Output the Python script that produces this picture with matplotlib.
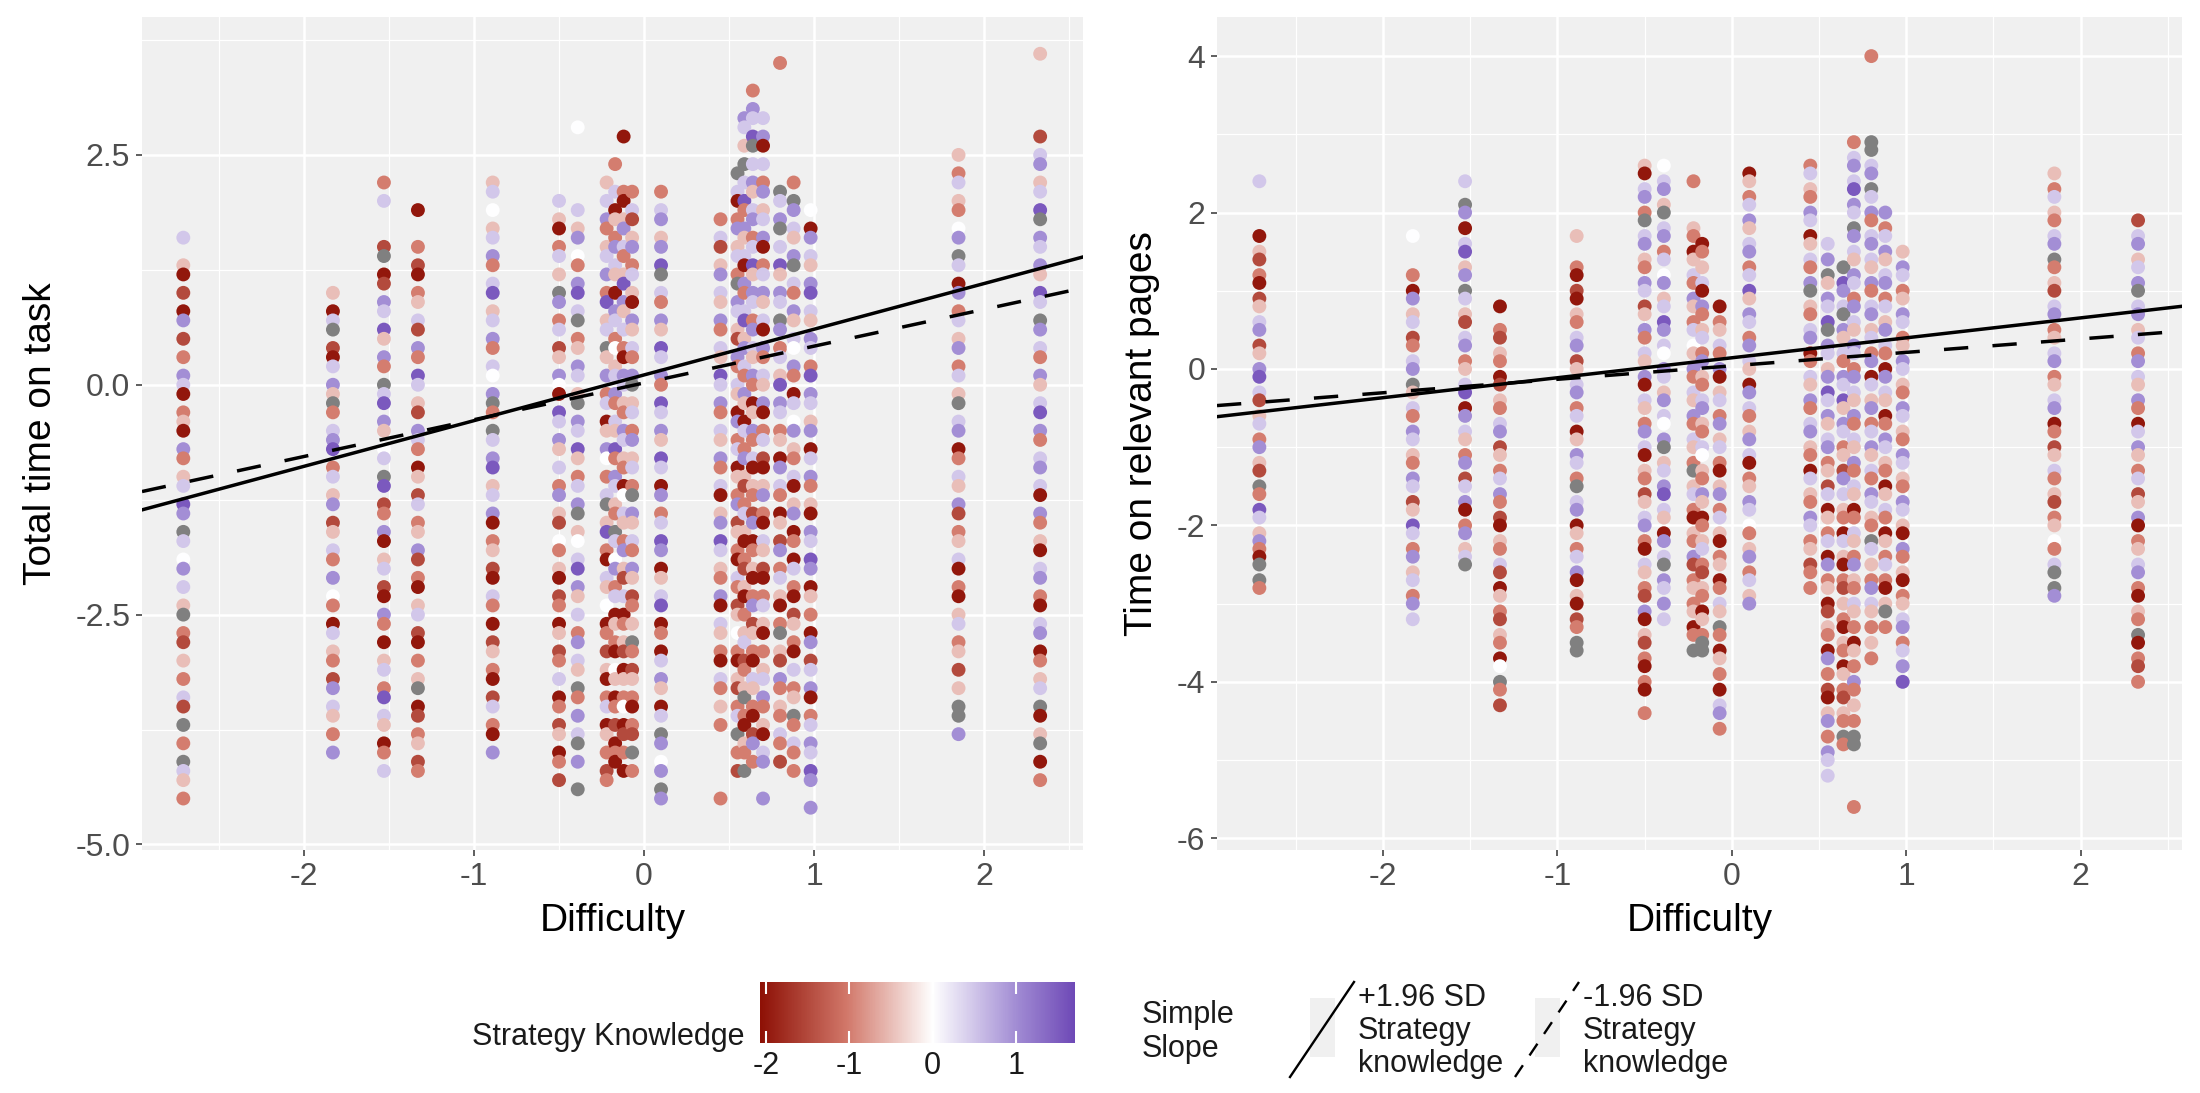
import numpy as np
import matplotlib as mpl
mpl.use('Agg')
import matplotlib.pyplot as plt
from matplotlib.colors import LinearSegmentedColormap, Normalize, to_rgba
from matplotlib.ticker import FixedLocator

plt.rc('font', family=['Liberation Sans', 'DejaVu Sans'])
plt.rcParams['axes.unicode_minus'] = False

# item difficulty of each column of points
difficulty = [-2.71, -1.83, -1.53, -1.33, -0.89, -0.50, -0.39, -0.22, -0.17, -0.12, -0.07,
              0.10, 0.45, 0.55, 0.59, 0.64, 0.70, 0.80, 0.88, 0.98, 1.85, 2.33]

# points per column: value in tenths + strategy knowledge code
time_task = [
    "16l 13p 12R 10r 8R 7m 5r 3o 1m 0l -1R -3o -4p -5R -7m -8o -10p -11l -13v -14m -16g -17l -19w -20m -22l -24p -25g -27o -28r -30p -32o -34l -35r -37g -39o -41g -42l -43p -45o",
    "10p 8R 7l 6g 4r 3R 2l 0m -1p -2g -3o -5l -6m -7v -9o -10l -12p -13m -15r -16p -18l -19o -21m -23w -24o -26R -27l -29p -30o -32r -33m -35l -36p -38o -40m",
    "22o 20l 15r 14g 12R 11r 9m 8l 6v 5p 3m 2o 0g -1l -2v -4m -5p -7w -8l -10g -11v -13r -14o -16m -17R -19p -20l -22r -23R -25m -26o -28R -30p -31l -33o -34v -36l -37p -39R -40o -42l",
    "19R 15o 13r 12R 10o 9p 7l 6r 4m 3o 1v 0l -2p -3r -5m -6l -7o -9R -10p -12r -13l -15o -16p -18m -19r -21o -22R -24p -25l -27r -28R -30o -32p -33g -35R -36r -38o -39p -41r -42o",
    "22p 21l 19w 17p 16l 14m 13o 11l 10v 8p 7l 5m 4o 2l 1w -1m -2g -3o -5g -6l -8m -9v -11p -12l -14m -15R -17o -18p -20r -21R -23l -24o -26R -28r -29p -31o -32R -34r -35l -37o -38R -40m",
    "20l 18p 17R 15o 14l 12p 10g 9m 7o 6l 4r 3p 1m 0w -1R -3v -4l -6m -7p -9l -11o -12m -14p -15r -17w -18o -20p -21R -23r -24o -26R -27p -29r -30o -32l -34R -35o -37r -38p -40R -41o -43r",
    "28w 19l 17p 16m 14w 13o 11m 10v 8l 7g 5o 4p 2m 1l -1p -2g -4m -5l -7v -8p -10o -11l -13m -14g -16p -17w -19l -20v -22m -23p -25l -27o -28m -30l -31p -33g -34o -36m -38l -39g -41m -44g",
    "22p 20l 18m 17o 15p 14l 12m 10o 9v 7p 6l 4g 3p 1m -1o -2l -4R -5p -7m -8w -10o -12l -13g -15p -16v -18o -19R -21l -22p -24w -26R -27o -29r -31p -32R -34o -35l -37R -38p -40o -42r -43o",
    "24o 21l 19R 18p 16o 15m 13l 12p 10R 8m 7l 5o 4w 2p 1l -1m -2o -4l -5p -7v -8o -10m -11l -13p -14o -16g -17l -19w -20m -22o -23l -25R -26p -28o -29R -31w -32p -34R -35o -37r -39R -40o -41R",
    "27R 21o 20R 18p 17m 15l 14o 12p 11v 9m 8p 6l 4o 3R 1m 0l -2p -3o -5m -6l -8p -9o -11R -12w -14l -15p -17o -18m -20p -21r -23l -25R -26o -28p -29r -31R -32p -34o -35w -37R -38r -40o -42R",
    "21o 19l 18r 16p 15m 13o 12l 10p 9R 7m 6p 4l 3o 1m 0g -2p -3l -5o -6m -8p -9l -11o -12g -14m -15p -17l -18o -20m -21p -23r -24o -26p -28g -29o -31r -32p -34o -35R -37o -38r -40g -42o",
    "21o 19l 18m 16p 15m 13v 12g 10l 9o 7m 6p 4v 3l 1m 0o -2v -3l -5m -6p -8v -9l -11R -12m -14o -15l -17v -18m -20R -21p -23l -24v -26R -27o -29R -30l -32m -33p -35R -36l -38g -39m -41w -42m -44g -45m",
    "18o 16l 15r 13p 12m 10l 9p 7m 6o 4l 3p 1v 0l -2m -3o -5l -6p -8m -9o -11l -12R -14p -15m -17v -18l -20p -21o -23m -24R -26l -27p -29o -30R -32l -33o -35p -37o -45o",
    "23g 21l 20R 18o 17m 15p 14l 12o 11g 9m 8l 6p 5r 3m 2o 0l -1p -3R -4m -6o -7l -9R -10p -12o -13m -15r -16p -18o -19R -21l -22o -24r -25p -27w -29o -30R -32p -33r -35o -36l -38g -40o -42r",
    "29m 28l 26p 24g 22l 20v 19o 17m 16p 14l 13R 11m 10o 8l 7v 5p 4m 2l 1o -1m -2p -4R -5l -7o -8m -10p -11r -13o -14l -16p -17R -19o -20r -22p -23R -25o -27p -28l -30r -31o -33p -34g -36o -37R -39p -40o -42g",
    "32o 30m 29l 27v 26g 24l 22m 21p 19l 18m 16o 15l 13v 12p 10m 9l 7o 6m 4l 3p 1m 0o -2R -3p -5m -6o -8l -9R -11p -12o -14r -15m -17R -18o -20p -21R -23o -24m -26r -27p -29o -30R -32l -33p -35o -36R -38r -39m -41o",
    "29l 27m 26R 24l 22o 21m 19p 18l 16m 15R 13o 12l 10m 9p 7l 6R 4m 3o 1l 0p -2m -3R -5o -6l -8r -9R -11p -12m -14o -15R -17l -18p -20r -21R -23o -24l -26p -27R -29o -31p -32l -34m -35o -37p -38R -40l -41m -45m",
    "35o 21g 20l 18m 17g 15l 13v 12p 10m 9l 7g 6m 4o 3l 1p 0v -2m -3l -5o -6p -8R -9m -11l -12o -14R -15p -17r -18m -20o -21l -23p -24R -26o -27g -29p -30r -32m -33o -35p -36o -38l -39o -41r",
    "22o 20g 19m 17l 16p 14m 13g 11l 10o 8m 7p 5l 4w 2m 1o -1R -2l -4w -5m -7p -8o -10l -11R -13p -14m -16R -17o -19R -20l -22o -23R -25r -26p -28o -29R -31l -33o -34p -36g -37o -39l -40o -42o",
    "19w 17R 16m 14l 13p 11m 10v 8l 7p 5m 4l 2o 1v -1m -2l -4p -5m -7R -8l -10m -11o -13p -14R -16m -17l -19v -20m -22R -23p -25o -27R -28m -30r -31l -33m -34R -36o -37l -39m -40l -42v -43m -46m",
    "25p 23o 22l 20p 19o 17w 16m 14g 13l 11R 10m 8o 7l 5p 4m 2o 1l -1p -2g -4l -5m -7R -8o -10l -11p -13m -14r -16o -17p -19l -20R -22o -23R -25p -26l -28o -29p -31r -33p -35g -36g -38m",
    "36p 27r 25l 24m 22p 21l 19v 18g 16m 15l 13m 12p 10v 9l 7g 6m 4l 3o 1m 0p -2l -3v -5m -6o -8l -9m -11l -12R -14m -15o -17p -18R -20l -21m -23o -24R -26l -27m -29R -30o -32p -33l -35g -36R -38p -39g -41R -43o",
]

time_relevant = [
    "24l 17R 15p 14r 12o 11R 9r 8p 6l 5m 3r 2p 0m -1v -3l -4r -6p -7l -9o -10m -12p -13r -15g -16o -18v -19l -21p -22m -23o -24R -25g -27g -28o",
    "17w 12o 10R 9m 7p 6l 4r 3o 1l 0m -2g -3p -5l -6o -8m -9l -11p -12o -14m -15l -17r -18p -20v -21l -23o -24m -26p -27l -29o -30m -32l",
    "24l 21g 20m 18R 16l 15v 13p 12m 10g 9l 7p 6r 4l 3m 1o 0p -2l -3v -5R -6m -8l -9p -11o -12m -14r -15l -17m -18R -20o -21m -23p -24l -25g",
    "8R 5o 4r 2p 1o -1R -2r -4p -5o -7l -8m -10r -11p -13o -14l -16m -17o -19r -20R -22p -23o -25l -26r -28R -29p -31o -32r -34p -35o -37R -38w -40g -41o -43r",
    "17p 13o 12R 10r 9R 7p 6o 4l 3m 1r 0p -2l -3m -5o -6l -8R -9p -11m -12l -14o -15g -17l -18m -20R -21p -23o -24l -26m -27R -29p -30R -32r -33o -35g -36g",
    "26p 25R 23l 22m 20o 19g 17l 16m 14p 13o 11m 10l 8r 7p 5m 4o 2l 1p -1m -2R -4l -5p -7o -8m -10l -11R -13p -14o -16r -17p -19l -20m -22o -23R -25l -26p -28o -29r -31m -32R -34p -35r -37o -38R -40o -41R -44o",
    "26w 24l 23m 21p 20g 18l 17m 15o 14l 12w 11m 9p 8l 6v 5m 3l 2w 0m -1l -3p -4m -6l -7w -9m -10g -12p -13l -15m -16v -18l -19p -21R -22m -24l -25g -27m -28l -30m -32l",
    "24o 18p 17o 15R 14p 12l 11o 9m 8p 6o 5l 3w 2p 0m -1o -3l -4p -6m -7o -9l -10p -12o -13g -15p -16l -18o -19R -21p -22o -24m -25r -27o -28p -30o -31p -33R -34o -36g",
    "16R 15o 13p 11l 10R 8m 7o 5p 4l 2o 1m -1p -2o -4l -5m -7p -8o -10l -11w -13p -14o -16m -17p -19R -20o -22p -23l -25o -26r -28p -29o -31R -32p -34o -35g -36g",
    "",
    "8R 6o 5p 3l 2o 0m -1R -3p -4l -6o -7m -9p -10l -12o -13R -15p -16m -18o -19l -21p -22R -24o -25p -27R -28o -30l -31p -33g -34o -36R -37p -39o -41R -43l -44m -46o",
    "25R 24p 22o 21l 19m 18p 16l 15m 13o 12l 10v 9p 7m 6l 4o 3m 1l 0p -2R -3m -5l -6o -8p -9m -11l -12R -14o -15p -17m -18l -20w -21o -23p -24m -26o -27l -29p -30m",
    "26o 25l 23p 22o 20m 19l 17R 16p 14l 13o 11m 10g 8p 7o 5l 4m 2R 1o -1l -2p -4m -5o -7l -8m -10p -11o -13R -14l -16p -17o -19m -20l -22o -23p -25r -26o -28o",
    "16l 14m 12g 11p 9m 8l 6v 5g 3m 2l 0p -1m -3v -4l -6m -7p -9l -10m -12o -13p -15r -16l -18R -19p -21o -22l -24R -25m -27o -28p -30R -31r -33p -34o -36R -37m -39o -41r -42R -44p -45m -47o -49m -50l -52l",
    "",
    "13g 11v 10m 8l 7g 5m 4p 2l 1o -1m -2l -4v -5p -7m -8l -10o -11p -13r -14m -16l -18p -19o -21R -22l -24p -25R -27o -28r -30p -32o -33R -35p -36o -38R -39p -41o -42r -44p -45o -47g -48o",
    "29o 27l 26m 24l 23v 21m 20l 18g 17m 15l 14p 12m 11l 9o 8m 6l 5p 3m 2l 0o -1m -3l -4p -6m -7o -9l -10p -12m -13o -15l -16p -18R -19o -21l -22p -24o -25m -27p -28o -30l -31p -33o -35R -36p -38o -40m -41o -43p -45o -47g -48g -56o",
    "40o 29g 28g 26l 25m 23g 22l 20m 19o 17l 16m 14l 13p 11m 10o 8l 7m 5p 4l 2o 1m -1R -2l -4p -5m -7o -8l -10m -11p -13l -14o -16m -17l -19p -20o -22g -23l -25p -27o -28m -30l -31p -33o -35p -37o",
    "20m 18o 17l 15m 14p 12l 11m 9o 8l 6p 5m 3l 2o 0R -1m -3l -4p -6R -7o -9m -10l -12p -13o -15R -16p -18l -19o -21R -22p -24o -25l -27o -28R -30p -31g -33o",
    "15p 13m 12l 10o 9p 7m 6l 4o 3p 1m 0l -2p -3o -5m -6l -8p -9o -11m -12l -14p -15o -17m -18l -20p -21R -23m -24o -26p -27R -29o -30p -32l -33m -35o -36l -38m -40v",
    "25p 23o 22l 20p 19o 17l 16m 14g 13o 11p 10r 8l 7m 5o 4p 2l 1m -1o -2p -4l -5m -7R -8o -10r -11p -13l -14o -16p -17r -19o -20p -22w -23o -25l -26g -28g -29m",
    "19r 17l 16m 14p 13l 11m 10g 8l 7m 5p 4l 2o 1m -1l -2p -4m -5o -7R -8l -10m -11p -13o -14l -16r -17p -19m -20R -22o -23p -25l -26m -28o -29R -31p -32o -34g -35R -37o -38r -40o",
]

# strategy knowledge value for each code (g = missing)
knowledge_codes = {'R': -2.0, 'r': -1.5, 'o': -1.0, 'p': -0.5, 'w': 0.0,
                   'l': 0.5, 'm': 1.0, 'v': 1.55, 'g': np.nan}
know_min, know_max = -2.07, 1.71

# simple slopes (intercept, slope) for +1.96 SD and -1.96 SD
icept_hi = [0.107, 0.143]
slope_hi = [0.497, 0.255]
icept_lo = [0.02, 0.04]
slope_lo = [0.40, 0.172]

ylabels = ['Total time on task', 'Time on relevant pages']
yticks = [[-5.0, -2.5, 0.0, 2.5], [-6, -4, -2, 0, 2, 4]]
ytick_labels = [['-5.0', '-2.5', '0.0', '2.5'], ['-6', '-4', '-2', '0', '2', '4']]
yminor = [[-3.75, -1.25, 1.25, 3.75], [-5, -3, -1, 1, 3]]
ylims = [(-5.06, 4.0), (-6.15, 4.5)]
xlim = (-2.953, 2.582)

cmap = LinearSegmentedColormap.from_list(
    'sk', [(0, '#8E1106'), (0.25, '#D2786A'), (0.5, '#FFFFFF'), (0.75, '#A08AD3'), (1, '#5528A8')])
norm = Normalize(-2.07, 2.07)
grey = '#808080'
bg = '#F0F0F0'

W, H = 2200, 1093
fig = plt.figure(figsize=(22, 10.93), dpi=100)


def unpack(cols):
    xs, ys, ks = [], [], []
    for d, col in zip(difficulty, cols):
        for tok in col.split():
            xs.append(d)
            ys.append(int(tok[:-1]) / 10.0)
            ks.append(knowledge_codes[tok[-1]])
    return np.array(xs), np.array(ys), np.array(ks)


def px_axes(x0, y0, x1, y1):
    return fig.add_axes([x0 / W, 1 - y1 / H, (x1 - x0) / W, (y1 - y0) / H])


panels = [(142, 17, 1083, 850), (1217, 17, 2182, 850)]
for i, data in enumerate([time_task, time_relevant]):
    a = px_axes(*panels[i])
    a.set_facecolor(bg)
    for s in a.spines.values():
        s.set_visible(False)
    a.set_xlim(*xlim)
    a.set_ylim(*ylims[i])
    a.xaxis.set_major_locator(FixedLocator([-2, -1, 0, 1, 2]))
    a.xaxis.set_minor_locator(FixedLocator([-2.5, -1.5, -0.5, 0.5, 1.5, 2.5]))
    a.yaxis.set_major_locator(FixedLocator(yticks[i]))
    a.yaxis.set_minor_locator(FixedLocator(yminor[i]))
    a.set_xticklabels(['-2', '-1', '0', '1', '2'])
    a.set_yticklabels(ytick_labels[i])
    a.grid(which='major', color='white', linewidth=1.8)
    a.grid(which='minor', color='white', linewidth=0.9)
    a.set_axisbelow(True)
    a.tick_params(which='major', length=4.5, width=1.1, color='#333333',
                  labelsize=23, labelcolor='#4D4D4D', pad=4)
    a.tick_params(which='minor', length=0)

    x, y, k = unpack(data)
    colors = cmap(norm(np.nan_to_num(k)))
    colors[np.isnan(k)] = to_rgba(grey)
    a.scatter(x, y, s=100, c=colors, linewidths=0, zorder=2)

    a.axline((0, icept_hi[i]), slope=slope_hi[i], color='black', lw=2.5, zorder=3)
    a.axline((0, icept_lo[i]), slope=slope_lo[i], color='black', lw=2.5,
             linestyle=(0, (7, 7)), zorder=3)

    a.set_xlabel('Difficulty', fontsize=28, labelpad=8)
    a.set_ylabel(ylabels[i], fontsize=28, labelpad=12)

# colour bar legend
cax = px_axes(760, 982, 1075, 1043)
grad = np.linspace(know_min, know_max, 400)
cax.imshow(grad[None, :], extent=[know_min, know_max, 0, 1], aspect='auto',
           cmap=cmap, norm=norm)
cax.set_xlim(know_min, know_max)
cax.set_ylim(0, 1)
for s in cax.spines.values():
    s.set_visible(False)
cax.set_yticks([])
cax.set_xticks([-2, -1, 0, 1])
cax.set_xticklabels(['-2', '-1', '0', '1'])
cax.tick_params(length=0, labelsize=22, labelcolor='#1A1A1A', pad=6)
cax.vlines([-2, -1, 0, 1], 0, 0.2, color='white', lw=1.5)
cax.vlines([-2, -1, 0, 1], 0.8, 1, color='white', lw=1.5)

fig.text(745 / W, 1 - 1037 / H, 'Strategy Knowledge', fontsize=22,
         ha='right', va='center', color='#1A1A1A')

# simple slope legend
ov = fig.add_axes([0, 0, 1, 1])
ov.set_xlim(0, W)
ov.set_ylim(H, 0)
ov.axis('off')
ov.patch.set_visible(False)
ov.text(1142, 1032, 'Simple\nSlope', fontsize=22, ha='left', va='center',
        color='#1A1A1A', linespacing=1.15)
key_x = [1310, 1535]
key_styles = ['-', (0, (6, 5))]
key_labels = ['+1.96 SD\nStrategy\nknowledge', '-1.96 SD\nStrategy\nknowledge']
for kx, ls, lab in zip(key_x, key_styles, key_labels):
    ov.add_patch(plt.Rectangle((kx, 998), 25, 59, color=bg, lw=0))
    ov.plot([kx - 20, kx + 44], [1077, 982], color='black', lw=1.7, linestyle=ls)
    ov.text(kx + 48, 1031, lab, fontsize=22, ha='left', va='center',
            color='#1A1A1A', linespacing=1.15)

fig.savefig('out.png', dpi=100)
